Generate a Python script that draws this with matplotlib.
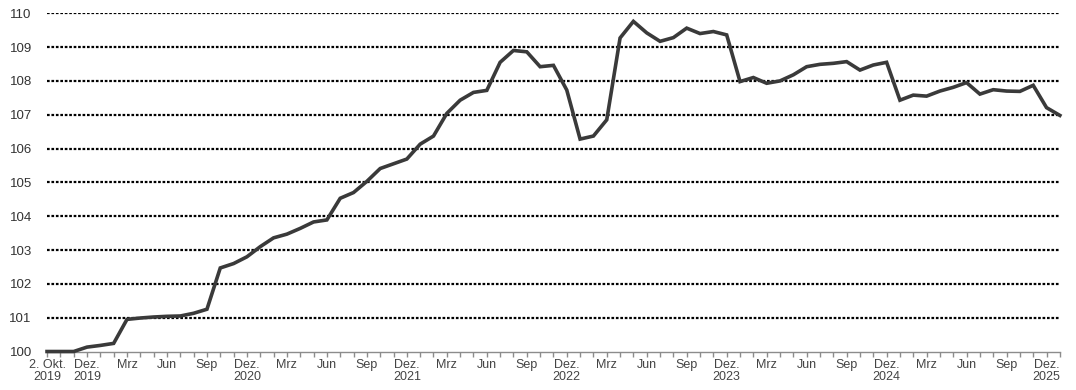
import matplotlib.pyplot as plt

plt.rcParams['font.family'] = ['Liberation Sans', 'DejaVu Sans']

# monthly index values, index 0 = 2. Okt. 2019, last = Jan 2026
values = [100.0, 100.0, 100.0, 100.13, 100.18, 100.24, 100.95, 100.99, 101.02, 101.04,
          101.05, 101.13, 101.25, 102.47, 102.6, 102.8, 103.1, 103.36, 103.47, 103.64,
          103.83, 103.89, 104.53, 104.7, 105.03, 105.41, 105.55, 105.69, 106.13, 106.37,
          107.04, 107.43, 107.66, 107.72, 108.55, 108.9, 108.86, 108.42, 108.46, 107.73,
          106.28, 106.37, 106.85, 109.27, 109.76, 109.42, 109.17, 109.28, 109.56, 109.4,
          109.46, 109.36, 107.98, 108.1, 107.93, 108.0, 108.18, 108.42, 108.49, 108.52,
          108.57, 108.32, 108.47, 108.55, 107.43, 107.58, 107.55, 107.7, 107.81, 107.95,
          107.61, 107.74, 107.7, 107.69, 107.87, 107.21, 106.98]

month_labels = ['2. Okt.\n2019', 'Dez.\n2019']
for year in range(2020, 2026):
    month_labels += ['Mrz', 'Jun', 'Sep', 'Dez.\n%d' % year]

yticks = list(range(100, 111))

fig = plt.figure(figsize=(10.76, 3.9), dpi=100)
ax = fig.add_axes([0.0437, 0.0987, 0.9413, 0.8673])

x = list(range(len(values)))
ax.plot(x, values, color='#3a3a3a', linewidth=2.6, clip_on=False, zorder=3,
        solid_joinstyle='miter')

ax.set_xlim(0, len(values) - 1)
ax.set_ylim(100, 110)

ax.set_yticks(yticks)
ax.set_yticklabels([str(v) for v in yticks])
ax.yaxis.grid(True, color='black', linestyle=(0, (1.2, 0.8)), linewidth=1.6)
ax.yaxis.get_gridlines()[0].set_visible(False)

label_pos = [0, 3] + list(range(6, len(values), 3))
ax.set_xticks(label_pos)
ax.set_xticklabels(month_labels[:len(label_pos)])
ax.set_xticks(x, minor=True)

for s in ['top', 'right', 'left']:
    ax.spines[s].set_visible(False)
ax.spines['bottom'].set_color('#8c8c8c')
ax.spines['bottom'].set_linewidth(1.0)

ax.tick_params(axis='y', length=0, pad=11, labelsize=9.5, labelcolor='#333333')
ax.tick_params(axis='x', which='both', direction='out', length=3.5, width=1,
               color='#8c8c8c', labelsize=9, labelcolor='#444444', pad=2)
for lab in ax.get_xticklabels():
    lab.set_linespacing(1.0)

fig.savefig('out.png', dpi=100)
